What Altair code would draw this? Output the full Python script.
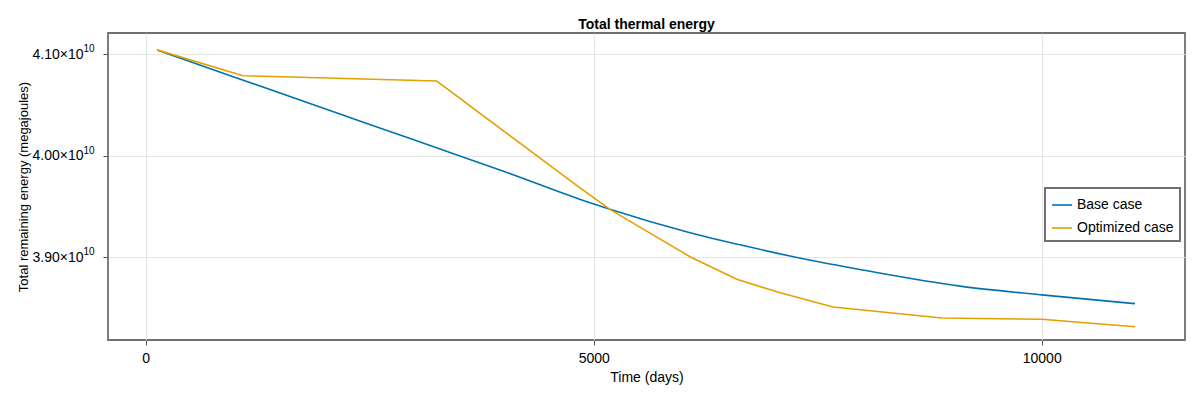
import altair as alt
import pandas as pd

base_days = [126, 1000, 2000, 3000, 4000, 4958, 5181, 6074, 6633, 7191, 8084, 9088, 10000, 11041]
base_vals = [4.1039, 4.0770, 4.0462, 4.0153, 3.9845, 3.9537, 3.9472, 3.9242, 3.9123, 3.9013, 3.8862, 3.8716, 3.8630, 3.8544]

opt_days = [126, 1086, 3248, 4847, 5181, 5600, 6074, 6596, 7080, 7671, 8884, 10000, 11041]
opt_vals = [4.1041, 4.0787, 4.0734, 3.9682, 3.9472, 3.9252, 3.9006, 3.8784, 3.8650, 3.8511, 3.8403, 3.8390, 3.8316]

series = ["Base case", "Optimized case"]
colors = ["#0072B2", "#E69F00"]
x_ticks = [0, 5000, 10000]
y_ticks = [3.90e10, 4.00e10, 4.10e10]
y_exponent = "10"

rows = []
for d, v in zip(base_days, base_vals):
    rows.append({"Time": d, "Energy": v * 1e10, "Case": series[0]})
for d, v in zip(opt_days, opt_vals):
    rows.append({"Time": d, "Energy": v * 1e10, "Case": series[1]})
df = pd.DataFrame(rows)
ticks_df = pd.DataFrame({"Energy": y_ticks, "exp": [y_exponent] * len(y_ticks)})

FONT = "Liberation Sans"

xscale = alt.Scale(domain=[-421, 11599], nice=False, zero=False)
yscale = alt.Scale(domain=[3.8186e10, 4.1207e10], nice=False, zero=False)

enc = dict(
    x=alt.X("Time:Q", title="Time (days)", scale=xscale,
            axis=alt.Axis(values=x_ticks, format="d")),
    y=alt.Y("Energy:Q", title="Total remaining energy (megajoules)", scale=yscale,
            axis=alt.Axis(values=y_ticks, titleFontSize=13,
                          labelExpr="format(datum.value / 1e10, '.2f') + '×10'")),
    color=alt.Color("Case:N", scale=alt.Scale(domain=series, range=colors),
                    legend=alt.Legend(title=None)),
)

base_line = alt.Chart(df).transform_filter(
    alt.datum.Case == series[0]
).mark_line(strokeWidth=1.6, clip=True, interpolate="monotone").encode(**enc)

opt_line = alt.Chart(df).transform_filter(
    alt.datum.Case == series[1]
).mark_line(strokeWidth=1.6, clip=True).encode(**enc)

sup = alt.Chart(ticks_df).mark_text(
    font=FONT, fontSize=10, align="left", baseline="middle", dy=-5, color="#000"
).encode(
    y=alt.Y("Energy:Q", scale=yscale),
    x=alt.value(-24.5),
    text="exp:N",
)

chart = alt.layer(base_line, opt_line, sup).properties(
    width=1077, height=307,
    title=alt.TitleParams("Total thermal energy", font=FONT, fontSize=14,
                          fontWeight="bold", anchor="middle", offset=1, color="#000"),
    autosize=alt.AutoSizeParams(type="none"),
    padding={"left": 100, "top": 25, "right": 7, "bottom": 52},
).configure_view(
    stroke="#707070", strokeWidth=1.8
).configure_axis(
    domain=False,
    grid=True, gridColor="#e6e6e6", gridWidth=1,
    ticks=True, tickColor="#555", tickSize=5, tickWidth=1,
    labelFont=FONT, labelFontSize=14, labelColor="#000", labelPadding=3,
    titleFont=FONT, titleFontSize=14, titleColor="#000", titleFontWeight="normal",
).configure_axisX(
    labelPadding=6, titlePadding=5
).configure_axisY(
    labelPadding=20, titlePadding=2
).configure_legend(
    orient="none", legendX=937, legendY=155,
    fillColor="white", strokeColor="#707070", strokeWidth=2,
    padding=6, rowPadding=5,
    symbolType="stroke", symbolSize=400, symbolStrokeWidth=1.6,
    labelFont=FONT, labelFontSize=14, labelColor="#000", labelOffset=4,
)

chart.save("out.html", embed_options={"renderer": "svg", "actions": False})
